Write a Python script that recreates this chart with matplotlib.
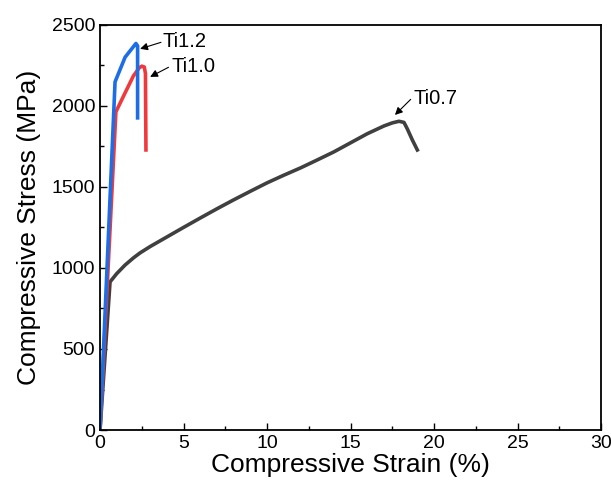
import matplotlib
matplotlib.use("Agg")
import matplotlib.pyplot as plt
from matplotlib.ticker import MultipleLocator

plt.rcParams["font.family"] = ["Liberation Sans", "DejaVu Sans"]

# Ti0.7 (grey)
strain_07 = [0.0, 0.6, 1.0, 1.5, 2.0, 2.4, 3.0, 4.0, 5.0, 6.0, 7.0, 8.0, 9.0,
             10.0, 11.0, 12.0, 13.0, 14.0, 15.0, 16.0, 17.0, 17.5, 17.9,
             18.2, 18.4, 18.7, 19.0]
stress_07 = [0, 914, 965, 1018, 1062, 1093, 1132, 1191, 1250, 1308, 1365,
             1420, 1473, 1525, 1572, 1617, 1666, 1716, 1772, 1828, 1876,
             1895, 1905, 1898, 1858, 1790, 1728]

# Ti1.0 (red)
strain_10 = [0.0, 0.95, 1.5, 2.0, 2.35, 2.5, 2.65, 2.72, 2.75]
stress_10 = [0, 1963, 2080, 2185, 2235, 2245, 2240, 2200, 1728]

# Ti1.2 (blue)
strain_12 = [0.0, 0.9, 1.5, 2.15, 2.25, 2.25]
stress_12 = [0, 2148, 2300, 2385, 2370, 1926]

labels = ["Ti1.2", "Ti1.0", "Ti0.7"]
arrow_heads = [(2.4, 2352), (3.0, 2179), (17.66, 1944)]
arrow_tails = [(3.65, 2392), (4.1, 2238), (18.6, 2040)]
label_pos = [(3.75, 2400), (4.3, 2240), (18.75, 2045)]

fig = plt.figure(figsize=(6.11, 4.87), dpi=100)
ax = fig.add_axes([0.1637, 0.117, 0.82, 0.832])

ax.plot(strain_07, stress_07, color="#404040", lw=2.6, solid_joinstyle="round")
ax.plot(strain_10, stress_10, color="#f0393c", lw=2.6, solid_joinstyle="round")
ax.plot(strain_12, stress_12, color="#1c6ee6", lw=2.6, solid_joinstyle="round")

for lab, head, tail, pos in zip(labels, arrow_heads, arrow_tails, label_pos):
    ax.annotate("", xy=head, xytext=tail,
                arrowprops=dict(arrowstyle="-|>", color="black", lw=0.8,
                                mutation_scale=11, shrinkA=0, shrinkB=0))
    ax.text(pos[0], pos[1], lab, fontsize=14.5, va="center", ha="left")

ax.set_xlim(0, 30)
ax.set_ylim(0, 2500)
ax.xaxis.set_major_locator(MultipleLocator(5))
ax.xaxis.set_minor_locator(MultipleLocator(2.5))
ax.yaxis.set_major_locator(MultipleLocator(500))
ax.yaxis.set_minor_locator(MultipleLocator(250))
ax.tick_params(which="both", direction="in", labelsize=14, width=1)
ax.tick_params(which="major", length=5)
ax.tick_params(which="minor", length=3)
for s in ax.spines.values():
    s.set_linewidth(1.3)

ax.set_xlabel("Compressive Strain (%)", fontsize=19, labelpad=1)
ax.set_ylabel("Compressive Stress (MPa)", fontsize=19, labelpad=8)

fig.savefig("out.png", dpi=100)
